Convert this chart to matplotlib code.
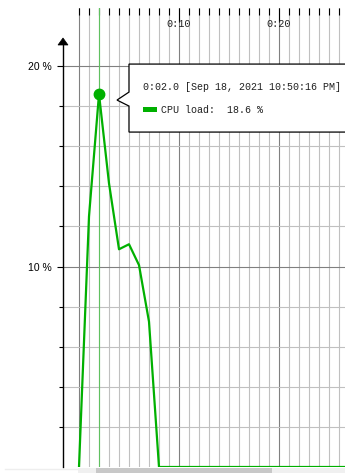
import matplotlib
matplotlib.use('Agg')
import matplotlib.pyplot as plt
from matplotlib.patches import Polygon, Rectangle

# Datos (segundos desde el inicio, carga de CPU en %)
segundos = [0, 1, 2, 3, 4, 5, 6, 7, 8, 9, 10, 11, 12, 13, 14, 15, 16, 17, 18,
            19, 20, 21, 22, 23, 24, 25, 26, 27]
carga_cpu = [0, 12.5, 18.6, 14.15, 10.86, 11.11, 10.07, 7.25, 0, 0, 0, 0, 0, 0,
             0, 0, 0, 0, 0, 0, 0, 0, 0, 0, 0, 0, 0, 0]
ticks_mayores = [10, 20]
etiquetas_x = ['0:10', '0:20']
ticks_y = [10, 20]
etiquetas_y = ['10 %', '20 %']
niveles_y = [2, 4, 6, 8, 10, 12, 14, 16, 18, 20]
t_cursor = 2
texto_tiempo = '0:02.0 [Sep 18, 2021 10:50:16 PM]'
texto_serie = 'CPU load:  18.6 %'

W, H = 345, 473
verde = '#00b000'
fuente_mono = 'Liberation Mono'

fig = plt.figure(figsize=(W / 100, H / 100), dpi=100)
fig.patch.set_facecolor('white')

# Zona del gráfico en píxeles
x0, x1, y_top, y_bot = 63, 345, 8, 467
ax = fig.add_axes([x0 / W, (H - y_bot) / H, (x1 - x0) / W, (y_bot - y_top) / H])
px_seg = 10.0
px_pct = 20.05
ax.set_xlim(-(79 - x0) / px_seg, (x1 - 79) / px_seg)
ax.set_ylim(0, (y_bot - y_top) / px_pct)
ax.patch.set_alpha(0)

# Rejilla
for t in segundos[:-1]:
    c = '#808080' if t % 10 == 0 else '#c0c0c0'
    ax.axvline(t, color=c, lw=0.8, zorder=1)
for v in niveles_y:
    c = '#808080' if v % 10 == 0 else '#c0c0c0'
    ax.axhline(v, color=c, lw=0.8, zorder=1)

# Cursor y serie
ax.axvline(t_cursor, color='#60c060', lw=0.8, zorder=2)
ax.plot(segundos, carga_cpu, color=verde, lw=1.6, zorder=3)
i = segundos.index(t_cursor)
ax.plot([t_cursor], [carga_cpu[i]], 'o', ms=7.5, color=verde, mec=verde, zorder=4)

# Ejes
for s in ['top', 'right', 'bottom']:
    ax.spines[s].set_visible(False)
ax.spines['left'].set_bounds(0, (y_bot - 45) / px_pct)
ax.spines['left'].set_linewidth(1)

ax.xaxis.tick_top()
ax.set_xticks(ticks_mayores)
ax.set_xticklabels([])
ax.set_xticks([t for t in segundos[:-1] if t not in ticks_mayores], minor=True)
ax.tick_params(axis='x', which='major', direction='in', length=10, width=0.8, color='black')
ax.tick_params(axis='x', which='minor', direction='in', length=5, width=0.8, color='black')
for t, lab in zip(ticks_mayores, etiquetas_x):
    ax.annotate(lab, xy=(t, 1), xycoords=('data', 'axes fraction'), xytext=(0, -11.5),
                textcoords='offset points', ha='center', va='center',
                fontsize=7.3, family=fuente_mono, color='#202020')

ax.set_yticks(ticks_y)
ax.set_yticklabels(etiquetas_y, fontsize=7.5, family='Liberation Sans')
ax.set_yticks([v for v in niveles_y if v not in ticks_y], minor=True)
ax.tick_params(axis='y', which='major', direction='out', length=4.3, width=0.8, pad=3.6)
ax.tick_params(axis='y', which='minor', direction='out', length=2.9, width=0.8)

# Capa en píxeles para flecha, tooltip y barra de desplazamiento
ov = fig.add_axes([0, 0, 1, 1])
ov.set_xlim(0, W)
ov.set_ylim(H, 0)
ov.axis('off')
ov.patch.set_alpha(0)

ov.add_patch(Polygon([[x0 - 5, 45], [x0, 38], [x0 + 5, 45]], closed=True,
                     facecolor='black', edgecolor='black', lw=0.5))

# posición del punto en píxeles
px, py = ax.transData.transform((t_cursor, carga_cpu[i]))
py = H - py
bx, by_top, by_bot = px + 30, py - 30, py + 38
tip = [px + 18, py + 6]
ov.add_patch(Polygon([[W + 5, by_top], [bx, by_top], [bx, tip[1] - 8], tip,
                      [bx, tip[1] + 6], [bx, by_bot], [W + 5, by_bot]],
                     closed=True, facecolor='white', edgecolor='black', lw=0.9,
                     clip_on=False, zorder=5))
ov.text(bx + 14, py - 7, texto_tiempo, fontsize=7.2, family=fuente_mono,
        va='center', ha='left', color='#202020', zorder=6)
ov.add_patch(Rectangle((bx + 14, py + 13), 14, 5, facecolor=verde, edgecolor='none', zorder=6))
ov.text(bx + 32, py + 15.5, texto_serie, fontsize=7.2, family=fuente_mono,
        va='center', ha='left', color='#202020', zorder=6)

# Barra de desplazamiento
ov.plot([5, 78], [469, 469], color='#eeeeee', lw=1)
ov.add_patch(Rectangle((78, 468), W - 78, 5, facecolor='#f0f0f0', edgecolor='none'))
ov.add_patch(Rectangle((96, 468), 176, 5, facecolor='#c8c8c8', edgecolor='none'))

fig.savefig('out.png', dpi=100)
